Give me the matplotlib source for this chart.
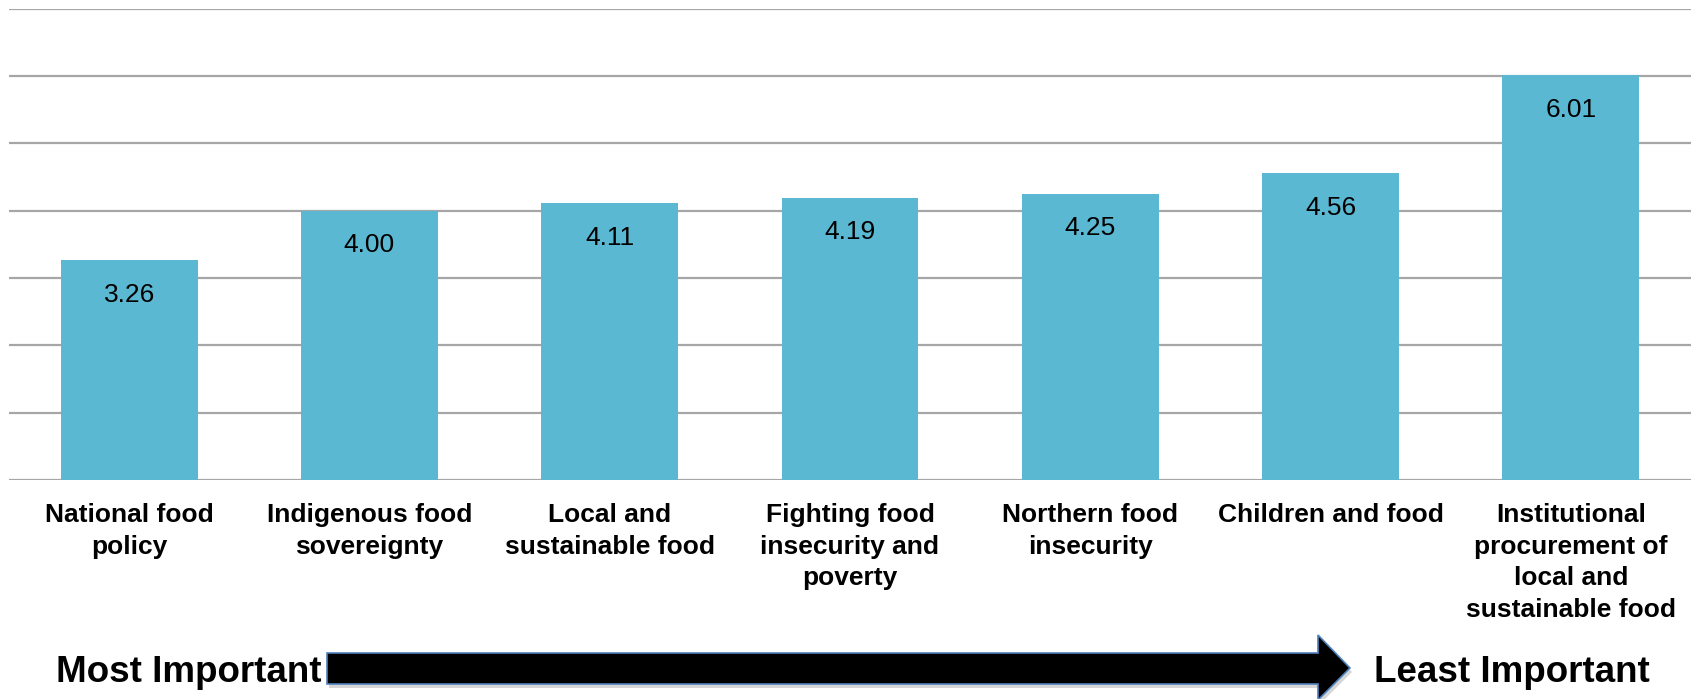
import matplotlib
matplotlib.use("Agg")
import matplotlib.pyplot as plt
from matplotlib.patches import Polygon
import numpy as np

categories = [
    "National food\npolicy",
    "Indigenous food\nsovereignty",
    "Local and\nsustainable food",
    "Fighting food\ninsecurity and\npoverty",
    "Northern food\ninsecurity",
    "Children and food",
    "Institutional\nprocurement of\nlocal and\nsustainable food",
]
values = [3.26, 4.00, 4.11, 4.19, 4.25, 4.56, 6.01]
value_labels = ["3.26", "4.00", "4.11", "4.19", "4.25", "4.56", "6.01"]
left_label = "Most Important"
right_label = "Least Important"

plt.rcParams['font.family'] = ['Liberation Sans', 'DejaVu Sans']

W, H = 1694, 699
fig = plt.figure(figsize=(W / 100, H / 100), dpi=100)
ax = fig.add_axes([9 / W, 1 - 480 / H, (1691 - 9) / W, (480 - 8.5) / H])

x = np.arange(len(categories))
bars = ax.bar(x, values, width=0.57, color='#5BB8D2', zorder=3)
ax.set_xlim(-0.5, len(categories) - 0.5)
ax.set_ylim(0, 7)
ax.set_yticks(np.arange(0, 8, 1))
ax.yaxis.grid(True, color='#A6A6A6', linewidth=1.6, zorder=0)
ax.set_axisbelow(True)
for s in ax.spines.values():
    s.set_visible(False)
ax.tick_params(axis='y', left=False, labelleft=False)
ax.tick_params(axis='x', bottom=False, pad=13)
ax.set_xticks(x)
ax.set_xticklabels(categories, fontsize=19, fontweight='bold', linespacing=1.41)

for xi, v, lab in zip(x, values, value_labels):
    ax.annotate(lab, (xi, v), xytext=(0, -30), textcoords='offset points',
                ha='center', va='baseline', fontsize=19, color='black', zorder=4)

# Arrow decoration (figure fraction coords)
def fx(px):
    return px / W

def fy(py):
    return 1 - py / H

tail, head_start, tip = 327, 1318, 1350
body_top, body_bot, head_top, head_bot, yc = 653, 684, 635, 700, 668
pts = [(fx(tail), fy(body_top)), (fx(head_start), fy(body_top)), (fx(head_start), fy(head_top)),
       (fx(tip), fy(yc)), (fx(head_start), fy(head_bot)), (fx(head_start), fy(body_bot)),
       (fx(tail), fy(body_bot))]
shadow = Polygon([(px + 2 / W, py - 4 / H) for px, py in pts], closed=True,
                 transform=fig.transFigure, facecolor='#BBBBBB', edgecolor='none', alpha=0.6)
fig.patches.append(shadow)
arrow = Polygon(pts, closed=True, transform=fig.transFigure, facecolor='black',
                edgecolor='#4F81BD', linewidth=1.2)
fig.patches.append(arrow)

fig.text(fx(56), fy(668), left_label, ha='left', va='center_baseline', fontsize=26.5,
         fontweight='bold')
fig.text(fx(1374), fy(668), right_label, ha='left', va='center_baseline', fontsize=26.5,
         fontweight='bold')

fig.savefig("out.png", dpi=100, facecolor='white')
